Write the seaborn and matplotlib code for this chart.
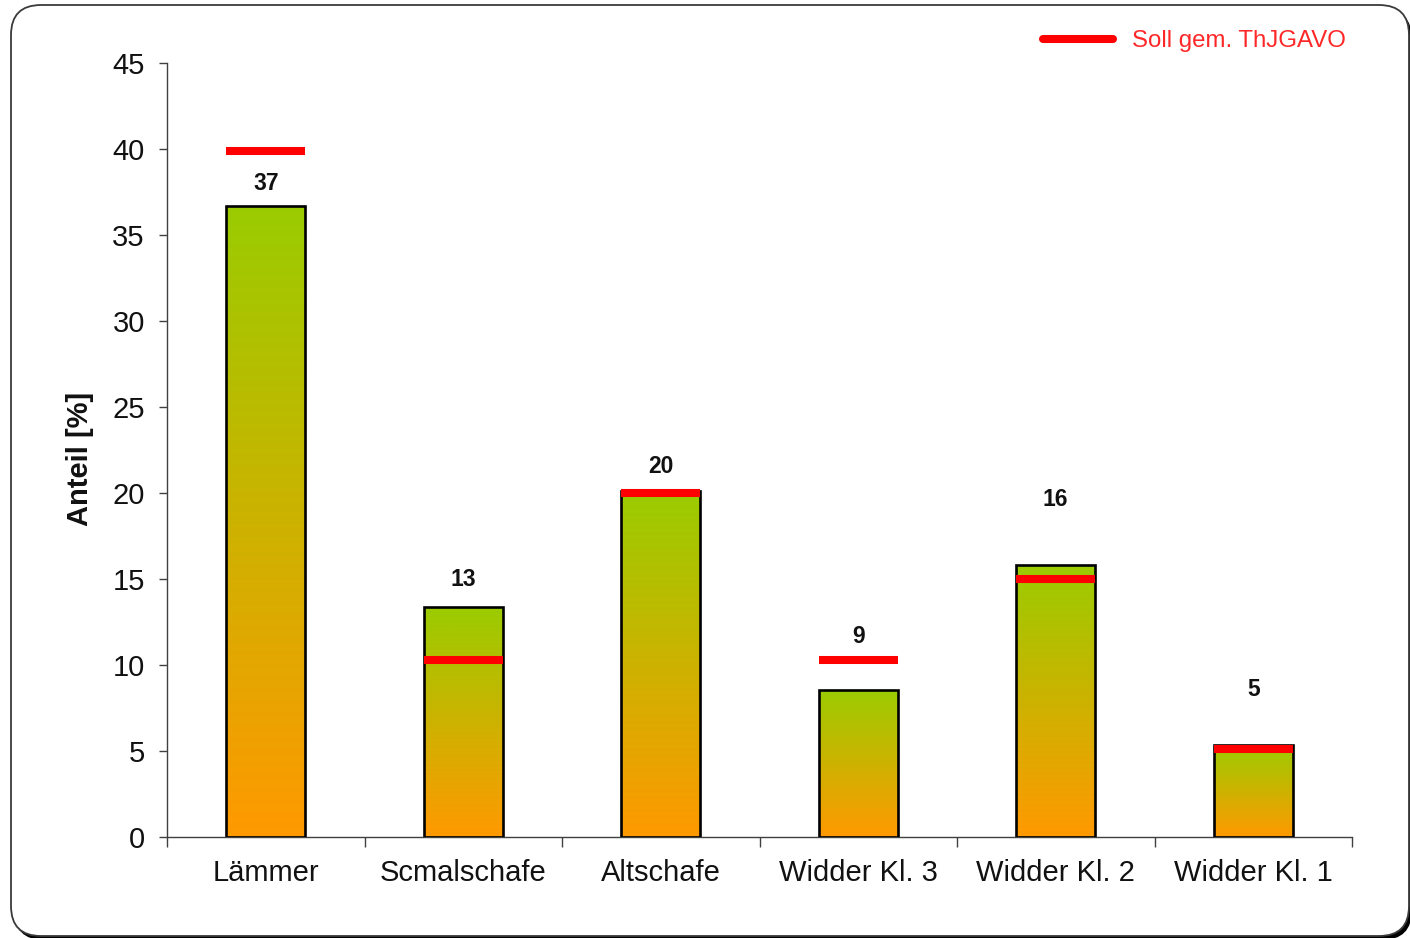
import numpy as np
import pandas as pd
import matplotlib
matplotlib.use("Agg")
import matplotlib.pyplot as plt
import seaborn as sns
from matplotlib.patches import FancyBboxPatch
from matplotlib.lines import Line2D
from matplotlib.colors import LinearSegmentedColormap
from matplotlib.transforms import IdentityTransform

# ---- data ----
categories = ["Lämmer", "Scmalschafe", "Altschafe", "Widder Kl. 3", "Widder Kl. 2", "Widder Kl. 1"]
anteil = [36.7, 13.4, 20.1, 8.55, 15.8, 5.35]
value_labels = ["37", "13", "20", "9", "16", "5"]
soll = [39.9, 10.3, 20.0, 10.3, 15.0, 5.1]
yticks = [0, 5, 10, 15, 20, 25, 30, 35, 40, 45]
legend_label = "Soll gem. ThJGAVO"
ylabel = "Anteil [%]"

# layout: vertical centre of each value label (data units)
label_pos = [38.0, 14.95, 21.55, 11.65, 19.65, 8.6]

sns.set_theme(style="white")
plt.rcParams["font.family"] = ["Liberation Sans", "DejaVu Sans"]

W, H = 1410, 938
fig = plt.figure(figsize=(W / 100, H / 100), dpi=100)
fig.patch.set_facecolor("white")

# outer rounded frame with shadow (pixel coordinates)
shadow = FancyBboxPatch((14, -2), 1409 - 11, 931, boxstyle="round,pad=0,rounding_size=30",
                        transform=IdentityTransform(), facecolor="black", edgecolor="none", zorder=-3)
frame = FancyBboxPatch((11, 2), 1409 - 11, 931, boxstyle="round,pad=0,rounding_size=30",
                       transform=IdentityTransform(), facecolor="white", edgecolor="#3a3a3a",
                       linewidth=1.3, zorder=-2)
fig.patches.extend([shadow, frame])

ax = fig.add_axes([167 / W, 1 - 837 / H, (1352 - 167) / W, (837 - 63) / H])
ax.patch.set_alpha(0)

df = pd.DataFrame({"Kategorie": categories, "Anteil": anteil})
sns.barplot(data=df, x="Kategorie", y="Anteil", order=categories, width=0.4,
            color="#9ACC00", edgecolor="black", linewidth=1.9, ax=ax, zorder=3)

cmap = LinearSegmentedColormap.from_list("go", ["#FF9900", "#9ACC00"])
grad = np.linspace(0, 1, 256).reshape(-1, 1)
for bar in ax.patches:
    x0, y0 = bar.get_x(), bar.get_y()
    w, h = bar.get_width(), bar.get_height()
    im = ax.imshow(grad, cmap=cmap, origin="lower", aspect="auto",
                   extent=[x0, x0 + w, y0, y0 + h], zorder=2.5, interpolation="bilinear")
    im.set_clip_path(bar)
    bar.set_facecolor("none")

# target lines
xs = np.arange(len(categories))
ax.hlines(soll, xs - 0.2, xs + 0.2, colors="#FF0000", linewidth=5.8, zorder=4)

# value labels
for i, (t, yp) in enumerate(zip(value_labels, label_pos)):
    ax.text(i, yp, t, ha="center", va="center", fontsize=16.5, fontweight="bold", color="#111111", zorder=5)

ax.set_xlim(-0.5, len(categories) - 0.5)
ax.set_ylim(0, 45)
ax.set_yticks(yticks)
ax.set_yticklabels([str(v) for v in yticks])
ax.set_xticks(xs)
ax.set_xticklabels(categories)
ax.set_xticks(np.arange(-0.5, len(categories)), minor=True)

for s in ["top", "right"]:
    ax.spines[s].set_visible(False)
for s in ["left", "bottom"]:
    ax.spines[s].set_color("#404040")
    ax.spines[s].set_linewidth(1.0)

ax.tick_params(axis="y", which="major", direction="out", length=6, width=1.0, color="#404040",
               labelsize=21, pad=10, labelcolor="#111111", left=True)
ax.tick_params(axis="x", which="major", length=0, labelsize=21, pad=16, labelcolor="#111111")
ax.tick_params(axis="x", which="minor", direction="out", length=7, width=1.0, color="#404040", bottom=True)

ax.set_xlabel("")
ax.set_ylabel(ylabel, fontsize=21, fontweight="bold", color="#111111")
ax.yaxis.set_label_coords(-0.062, 0.488)

handle = Line2D([], [], color="#FF0000", linewidth=5.8)
leg = ax.legend([handle], [legend_label], loc="center left", frameon=False,
                bbox_to_anchor=(1043 / W, 1 - 41 / H), bbox_transform=fig.transFigure,
                borderpad=0, borderaxespad=0, handlelength=2.9, handletextpad=0.8,
                fontsize=17.3)
for txt in leg.get_texts():
    txt.set_color("#FF2828")

fig.savefig("out.png", dpi=100)
